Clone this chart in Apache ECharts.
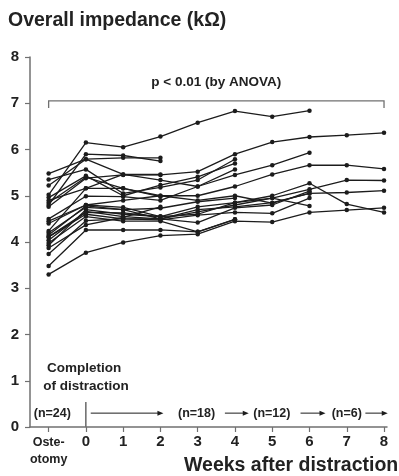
<!DOCTYPE html>
<html>
<head>
<meta charset="utf-8">
<script src="https://cdn.jsdelivr.net/npm/echarts@6/dist/echarts.min.js"></script>
<style>
  html, body { margin: 0; padding: 0; background: #fff; }
  #chart { width: 399px; height: 476px; }
</style>
</head>
<body>
<div id="chart"></div>
<script>
// x positions: -1 = osteotomy, 0..8 = weeks after distraction
const xValues = [-1, 0, 1, 2, 3, 4, 5, 6, 7, 8];
const yTicks = [0, 1, 2, 3, 4, 5, 6, 7, 8];

// individual patients, values in kΩ (Ost, wk0, wk1, ...)
// followed to week 8 (n=6)
const p01 = [4.76, 5.38, 5.45, 5.45, 5.52, 5.90, 6.16, 6.27, 6.31, 6.36];
const p02 = [4.45, 4.80, 4.90, 5.00, 5.00, 5.20, 5.46, 5.66, 5.66, 5.58];
const p03 = [4.20, 4.75, 4.70, 4.50, 4.65, 4.80, 4.95, 5.14, 5.34, 5.33];
const p04 = [3.93, 4.70, 4.60, 4.55, 4.60, 4.85, 5.00, 5.27, 4.82, 4.64];
const p05 = [4.04, 4.66, 4.55, 4.50, 4.70, 4.76, 4.85, 5.05, 5.07, 5.11];
const p06 = [3.30, 3.77, 3.99, 4.14, 4.17, 4.45, 4.43, 4.64, 4.69, 4.74];
// followed to week 6 (n=12)
const p07 = [5.02, 6.15, 6.05, 6.28, 6.58, 6.83, 6.71, 6.84];
const p08 = [5.22, 5.79, 5.46, 5.34, 5.20, 5.45, 5.66, 5.93];
const p09 = [4.40, 4.80, 4.75, 4.55, 4.76, 4.85, 4.95, 4.78];
const p10 = [4.85, 5.40, 5.16, 5.00, 4.90, 5.00, 4.84, 5.05];
const p11 = [4.11, 4.60, 4.50, 4.48, 4.58, 4.64, 4.62, 4.95];
const p12 = [3.74, 4.46, 4.50, 4.50, 4.42, 4.74, 4.80, 5.10];
// followed to week 4 (n=18)
const p13 = [5.35, 5.57, 5.05, 5.18, 5.34, 5.79];
const p14 = [4.96, 5.43, 5.00, 5.23, 5.41, 5.70];
const p15 = [4.50, 4.99, 4.98, 4.90, 5.20, 5.57];
const p16 = [4.15, 4.78, 4.70, 4.73, 4.87, 4.95];
const p17 = [3.98, 4.55, 4.45, 4.45, 4.22, 4.49];
const p18 = [3.48, 4.26, 4.26, 4.26, 4.22, 4.49];
// followed to week 2 (n=24)
const p19 = [5.48, 5.79, 5.82, 5.82];
const p20 = [4.80, 5.90, 5.87, 5.75];
const p21 = [4.90, 5.16, 5.46, 5.46];
const p22 = [4.24, 5.16, 5.16, 4.98];
const p23 = [4.11, 4.64, 4.63, 4.55];
const p24 = [3.87, 4.37, 4.53, 4.76];

const patients = [p01, p02, p03, p04, p05, p06, p07, p08, p09, p10, p11, p12,
  p13, p14, p15, p16, p17, p18, p19, p20, p21, p22, p23, p24];

const ink = '#1c1c1c';
const axisGray = '#707070';
const font = 'Liberation Sans, Arial, Helvetica, sans-serif';

const chart = echarts.init(document.getElementById('chart'), null, { renderer: 'canvas' });

const option = {
  animation: false,
  backgroundColor: '#fff',
  textStyle: { fontFamily: font },
  grid: { left: 30, right: 12, top: 57, bottom: 49 },
  xAxis: {
    type: 'value',
    min: -1.5,
    max: 8.08,
    splitLine: { show: false },
    axisLine: { lineStyle: { color: axisGray, width: 1.5 } },
    axisTick: { show: true, customValues: xValues, length: 5, lineStyle: { color: axisGray, width: 1.2 } },
    axisLabel: {
      customValues: xValues,
      margin: 7,
      color: '#222',
      fontSize: 15,
      fontWeight: 'bold',
      fontFamily: font,
      formatter: (v) => (v === -1 ? '{o|Oste-}\n{o|otomy}' : String(v)),
      rich: { o: { fontSize: 12.5, fontWeight: 'bold', lineHeight: 17, color: '#222', fontFamily: font } },
    },
  },
  yAxis: {
    type: 'value',
    min: 0,
    max: 8,
    interval: 1,
    splitLine: { show: false },
    axisLine: { show: true, onZero: false, lineStyle: { color: axisGray, width: 1.5 } },
    axisTick: { show: true, length: 5, lineStyle: { color: axisGray, width: 1.2 } },
    axisLabel: {
      margin: 11,
      color: '#222',
      fontSize: 15,
      fontWeight: 'bold',
      fontFamily: font,
      formatter: (v) => (yTicks.includes(v) ? String(v) : ''),
    },
  },
  series: patients.map((vals, i) => ({
    name: 'P' + (i + 1),
    type: 'line',
    data: vals.map((v, j) => [xValues[j], v]),
    symbol: 'circle',
    symbolSize: 4.5,
    lineStyle: { color: ink, width: 1.3 },
    itemStyle: { color: ink },
    emphasis: { disabled: true },
  })),
};

chart.setOption(option);

// annotations placed in data coordinates
const px = (x, y) => chart.convertToPixel({ gridIndex: 0 }, [x, y]);

function arrow(x1, x2, y) {
  const a = px(x1, y);
  const b = px(x2, y);
  return [
    { type: 'line', shape: { x1: a[0], y1: a[1], x2: b[0] - 5, y2: b[1] }, style: { stroke: ink, lineWidth: 1 } },
    { type: 'polygon', shape: { points: [[b[0], b[1]], [b[0] - 6, b[1] - 2.5], [b[0] - 6, b[1] + 2.5]] }, style: { fill: ink } },
  ];
}

function label(text, x, y, size, align) {
  const p = px(x, y);
  return {
    type: 'text', x: p[0], y: p[1],
    style: { text, fill: '#222', font: 'bold ' + size + 'px ' + font, align: align || 'center', verticalAlign: 'middle' },
  };
}

const bL = px(-1, 7.05);
const bR = px(8, 7.05);
const bDrop = px(8, 6.9);
const v0 = px(0, 0.54);
const v0b = px(0, 0);
const yArrow = 0.3;

chart.setOption({
  graphic: [
    { type: 'text', left: 8, top: 11, style: { text: 'Overall impedance (kΩ)', fill: '#222', font: 'bold 19.5px ' + font } },
    { type: 'polyline', shape: { points: [[bL[0], bDrop[1]], [bL[0], bL[1]], [bR[0], bR[1]], [bR[0], bDrop[1]]] }, style: { stroke: axisGray, lineWidth: 1.3, fill: null } },
    label('p < 0.01 (by ANOVA)', 3.5, 7.45, 13.5),
    label('Completion', -0.05, 1.28, 13.5),
    label('of distraction', 0, 0.87, 13.5),
    label('(n=24)', -0.9, yArrow, 12.5),
    { type: 'line', shape: { x1: v0[0], y1: v0[1], x2: v0b[0], y2: v0b[1] }, style: { stroke: ink, lineWidth: 1 } },
    ...arrow(0.13, 2.08, yArrow),
    label('(n=18)', 2.97, yArrow, 12.5),
    ...arrow(3.73, 4.37, yArrow),
    label('(n=12)', 4.99, yArrow, 12.5),
    ...arrow(5.76, 6.43, yArrow),
    label('(n=6)', 7.0, yArrow, 12.5),
    ...arrow(7.5, 8.1, yArrow),
    { type: 'text', left: 184, top: 456, style: { text: 'Weeks after distraction', fill: '#222', font: 'bold 19.5px ' + font } },
  ],
});
</script>
</body>
</html>
